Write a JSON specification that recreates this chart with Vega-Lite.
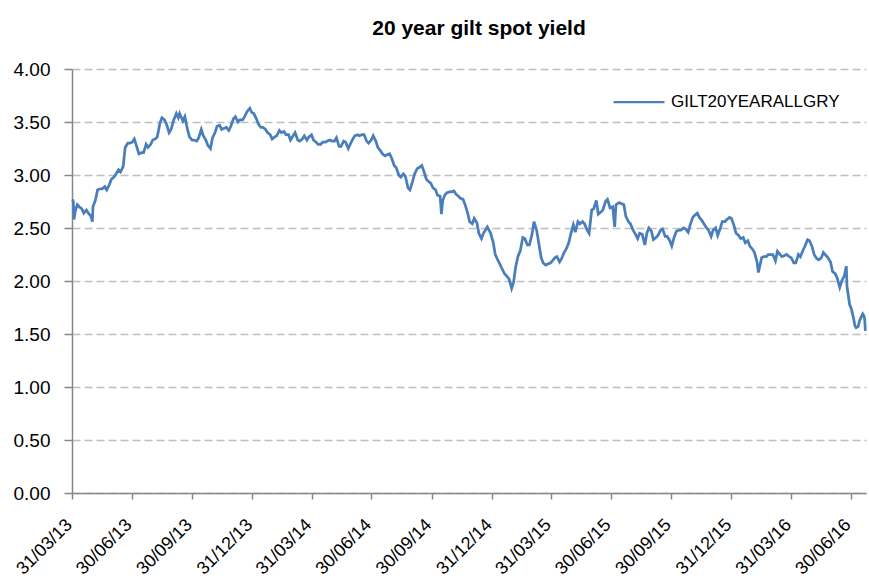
{
  "$schema": "https://vega.github.io/schema/vega-lite/v6.json",
  "width": 794,
  "height": 424,
  "autosize": {"type": "none"},
  "padding": {"left": 72, "top": 69, "right": 3, "bottom": 86},
  "background": "white",
  "config": {
    "view": {"stroke": null},
    "font": "Liberation Sans"
  },
  "title": {
    "text": "20 year gilt spot yield",
    "font": "Liberation Sans",
    "fontSize": 21,
    "fontWeight": "bold",
    "color": "#000000",
    "anchor": "middle",
    "dx": 10,
    "baseline": "alphabetic",
    "offset": 4
  },
  "data": {
    "values": [
      {"date": "2013-04-01", "yield": 2.77},
      {"date": "2013-04-02", "yield": 2.75},
      {"date": "2013-04-03", "yield": 2.58},
      {"date": "2013-04-05", "yield": 2.66},
      {"date": "2013-04-08", "yield": 2.72},
      {"date": "2013-04-11", "yield": 2.70},
      {"date": "2013-04-15", "yield": 2.68},
      {"date": "2013-04-18", "yield": 2.64},
      {"date": "2013-04-22", "yield": 2.67},
      {"date": "2013-04-25", "yield": 2.64},
      {"date": "2013-04-29", "yield": 2.61},
      {"date": "2013-05-01", "yield": 2.56},
      {"date": "2013-05-02", "yield": 2.70},
      {"date": "2013-05-06", "yield": 2.77},
      {"date": "2013-05-09", "yield": 2.86},
      {"date": "2013-05-13", "yield": 2.87},
      {"date": "2013-05-16", "yield": 2.87},
      {"date": "2013-05-20", "yield": 2.89},
      {"date": "2013-05-23", "yield": 2.86},
      {"date": "2013-05-27", "yield": 2.91},
      {"date": "2013-05-30", "yield": 2.96},
      {"date": "2013-06-03", "yield": 2.98},
      {"date": "2013-06-06", "yield": 3.01},
      {"date": "2013-06-10", "yield": 3.05},
      {"date": "2013-06-13", "yield": 3.03},
      {"date": "2013-06-17", "yield": 3.08},
      {"date": "2013-06-20", "yield": 3.26},
      {"date": "2013-06-24", "yield": 3.30},
      {"date": "2013-06-27", "yield": 3.30},
      {"date": "2013-07-01", "yield": 3.31},
      {"date": "2013-07-04", "yield": 3.34},
      {"date": "2013-07-08", "yield": 3.26},
      {"date": "2013-07-11", "yield": 3.20},
      {"date": "2013-07-15", "yield": 3.21},
      {"date": "2013-07-18", "yield": 3.21},
      {"date": "2013-07-22", "yield": 3.29},
      {"date": "2013-07-25", "yield": 3.26},
      {"date": "2013-07-29", "yield": 3.29},
      {"date": "2013-08-01", "yield": 3.33},
      {"date": "2013-08-05", "yield": 3.34},
      {"date": "2013-08-08", "yield": 3.36},
      {"date": "2013-08-12", "yield": 3.49},
      {"date": "2013-08-15", "yield": 3.54},
      {"date": "2013-08-19", "yield": 3.52},
      {"date": "2013-08-22", "yield": 3.48},
      {"date": "2013-08-26", "yield": 3.40},
      {"date": "2013-08-29", "yield": 3.43},
      {"date": "2013-09-02", "yield": 3.52},
      {"date": "2013-09-06", "yield": 3.58},
      {"date": "2013-09-09", "yield": 3.54},
      {"date": "2013-09-11", "yield": 3.58},
      {"date": "2013-09-16", "yield": 3.51},
      {"date": "2013-09-19", "yield": 3.55},
      {"date": "2013-09-23", "yield": 3.43},
      {"date": "2013-09-26", "yield": 3.36},
      {"date": "2013-09-30", "yield": 3.33},
      {"date": "2013-10-03", "yield": 3.33},
      {"date": "2013-10-07", "yield": 3.32},
      {"date": "2013-10-10", "yield": 3.35},
      {"date": "2013-10-14", "yield": 3.43},
      {"date": "2013-10-17", "yield": 3.37},
      {"date": "2013-10-21", "yield": 3.33},
      {"date": "2013-10-24", "yield": 3.28},
      {"date": "2013-10-28", "yield": 3.25},
      {"date": "2013-10-31", "yield": 3.35},
      {"date": "2013-11-04", "yield": 3.40},
      {"date": "2013-11-07", "yield": 3.46},
      {"date": "2013-11-11", "yield": 3.47},
      {"date": "2013-11-14", "yield": 3.43},
      {"date": "2013-11-18", "yield": 3.44},
      {"date": "2013-11-21", "yield": 3.45},
      {"date": "2013-11-25", "yield": 3.42},
      {"date": "2013-11-28", "yield": 3.46},
      {"date": "2013-12-02", "yield": 3.53},
      {"date": "2013-12-05", "yield": 3.55},
      {"date": "2013-12-09", "yield": 3.50},
      {"date": "2013-12-12", "yield": 3.52},
      {"date": "2013-12-16", "yield": 3.52},
      {"date": "2013-12-19", "yield": 3.55},
      {"date": "2013-12-23", "yield": 3.60},
      {"date": "2013-12-27", "yield": 3.63},
      {"date": "2013-12-30", "yield": 3.59},
      {"date": "2014-01-02", "yield": 3.58},
      {"date": "2014-01-06", "yield": 3.53},
      {"date": "2014-01-09", "yield": 3.48},
      {"date": "2014-01-13", "yield": 3.45},
      {"date": "2014-01-16", "yield": 3.45},
      {"date": "2014-01-20", "yield": 3.43},
      {"date": "2014-01-23", "yield": 3.40},
      {"date": "2014-01-27", "yield": 3.38},
      {"date": "2014-01-30", "yield": 3.34},
      {"date": "2014-02-03", "yield": 3.36},
      {"date": "2014-02-06", "yield": 3.37},
      {"date": "2014-02-10", "yield": 3.42},
      {"date": "2014-02-13", "yield": 3.40},
      {"date": "2014-02-17", "yield": 3.41},
      {"date": "2014-02-20", "yield": 3.38},
      {"date": "2014-02-24", "yield": 3.38},
      {"date": "2014-02-27", "yield": 3.33},
      {"date": "2014-03-03", "yield": 3.37},
      {"date": "2014-03-06", "yield": 3.40},
      {"date": "2014-03-10", "yield": 3.33},
      {"date": "2014-03-13", "yield": 3.32},
      {"date": "2014-03-17", "yield": 3.34},
      {"date": "2014-03-20", "yield": 3.37},
      {"date": "2014-03-24", "yield": 3.33},
      {"date": "2014-03-27", "yield": 3.36},
      {"date": "2014-03-31", "yield": 3.38},
      {"date": "2014-04-03", "yield": 3.33},
      {"date": "2014-04-07", "yield": 3.31},
      {"date": "2014-04-10", "yield": 3.29},
      {"date": "2014-04-14", "yield": 3.29},
      {"date": "2014-04-17", "yield": 3.31},
      {"date": "2014-04-21", "yield": 3.31},
      {"date": "2014-04-24", "yield": 3.32},
      {"date": "2014-04-28", "yield": 3.33},
      {"date": "2014-05-01", "yield": 3.32},
      {"date": "2014-05-05", "yield": 3.32},
      {"date": "2014-05-08", "yield": 3.35},
      {"date": "2014-05-12", "yield": 3.27},
      {"date": "2014-05-15", "yield": 3.27},
      {"date": "2014-05-19", "yield": 3.32},
      {"date": "2014-05-22", "yield": 3.31},
      {"date": "2014-05-26", "yield": 3.25},
      {"date": "2014-05-29", "yield": 3.29},
      {"date": "2014-06-02", "yield": 3.34},
      {"date": "2014-06-05", "yield": 3.37},
      {"date": "2014-06-09", "yield": 3.38},
      {"date": "2014-06-12", "yield": 3.37},
      {"date": "2014-06-16", "yield": 3.38},
      {"date": "2014-06-19", "yield": 3.38},
      {"date": "2014-06-23", "yield": 3.32},
      {"date": "2014-06-26", "yield": 3.30},
      {"date": "2014-06-30", "yield": 3.33},
      {"date": "2014-07-03", "yield": 3.37},
      {"date": "2014-07-07", "yield": 3.32},
      {"date": "2014-07-10", "yield": 3.26},
      {"date": "2014-07-14", "yield": 3.23},
      {"date": "2014-07-17", "yield": 3.20},
      {"date": "2014-07-21", "yield": 3.18},
      {"date": "2014-07-24", "yield": 3.19},
      {"date": "2014-07-28", "yield": 3.20},
      {"date": "2014-07-31", "yield": 3.16},
      {"date": "2014-08-04", "yield": 3.09},
      {"date": "2014-08-07", "yield": 3.07},
      {"date": "2014-08-11", "yield": 3.00},
      {"date": "2014-08-14", "yield": 2.98},
      {"date": "2014-08-18", "yield": 3.01},
      {"date": "2014-08-21", "yield": 2.99},
      {"date": "2014-08-25", "yield": 2.88},
      {"date": "2014-08-28", "yield": 2.86},
      {"date": "2014-09-01", "yield": 2.94},
      {"date": "2014-09-04", "yield": 3.01},
      {"date": "2014-09-08", "yield": 3.06},
      {"date": "2014-09-11", "yield": 3.07},
      {"date": "2014-09-15", "yield": 3.09},
      {"date": "2014-09-18", "yield": 3.04},
      {"date": "2014-09-22", "yield": 2.96},
      {"date": "2014-09-25", "yield": 2.94},
      {"date": "2014-09-29", "yield": 2.92},
      {"date": "2014-10-02", "yield": 2.88},
      {"date": "2014-10-06", "yield": 2.86},
      {"date": "2014-10-09", "yield": 2.81},
      {"date": "2014-10-13", "yield": 2.80},
      {"date": "2014-10-15", "yield": 2.63},
      {"date": "2014-10-17", "yield": 2.76},
      {"date": "2014-10-20", "yield": 2.81},
      {"date": "2014-10-23", "yield": 2.83},
      {"date": "2014-10-27", "yield": 2.84},
      {"date": "2014-10-30", "yield": 2.84},
      {"date": "2014-11-03", "yield": 2.85},
      {"date": "2014-11-06", "yield": 2.82},
      {"date": "2014-11-10", "yield": 2.80},
      {"date": "2014-11-13", "yield": 2.78},
      {"date": "2014-11-17", "yield": 2.77},
      {"date": "2014-11-20", "yield": 2.72},
      {"date": "2014-11-24", "yield": 2.64},
      {"date": "2014-11-27", "yield": 2.56},
      {"date": "2014-12-01", "yield": 2.54},
      {"date": "2014-12-04", "yield": 2.59},
      {"date": "2014-12-08", "yield": 2.55},
      {"date": "2014-12-11", "yield": 2.45},
      {"date": "2014-12-15", "yield": 2.40},
      {"date": "2014-12-18", "yield": 2.45},
      {"date": "2014-12-22", "yield": 2.49},
      {"date": "2014-12-24", "yield": 2.51},
      {"date": "2014-12-29", "yield": 2.45},
      {"date": "2015-01-02", "yield": 2.36},
      {"date": "2015-01-05", "yield": 2.25},
      {"date": "2015-01-08", "yield": 2.21},
      {"date": "2015-01-12", "yield": 2.16},
      {"date": "2015-01-15", "yield": 2.12},
      {"date": "2015-01-19", "yield": 2.07},
      {"date": "2015-01-22", "yield": 2.05},
      {"date": "2015-01-26", "yield": 2.02},
      {"date": "2015-01-30", "yield": 1.93},
      {"date": "2015-02-02", "yield": 1.99},
      {"date": "2015-02-05", "yield": 2.13},
      {"date": "2015-02-09", "yield": 2.24},
      {"date": "2015-02-12", "yield": 2.28},
      {"date": "2015-02-16", "yield": 2.41},
      {"date": "2015-02-19", "yield": 2.40},
      {"date": "2015-02-23", "yield": 2.34},
      {"date": "2015-02-26", "yield": 2.34},
      {"date": "2015-03-02", "yield": 2.44},
      {"date": "2015-03-05", "yield": 2.56},
      {"date": "2015-03-09", "yield": 2.48},
      {"date": "2015-03-12", "yield": 2.37},
      {"date": "2015-03-16", "yield": 2.22},
      {"date": "2015-03-19", "yield": 2.17},
      {"date": "2015-03-23", "yield": 2.15},
      {"date": "2015-03-26", "yield": 2.16},
      {"date": "2015-03-30", "yield": 2.17},
      {"date": "2015-04-02", "yield": 2.19},
      {"date": "2015-04-06", "yield": 2.22},
      {"date": "2015-04-09", "yield": 2.23},
      {"date": "2015-04-13", "yield": 2.18},
      {"date": "2015-04-16", "yield": 2.21},
      {"date": "2015-04-20", "yield": 2.27},
      {"date": "2015-04-23", "yield": 2.30},
      {"date": "2015-04-27", "yield": 2.36},
      {"date": "2015-04-30", "yield": 2.44},
      {"date": "2015-05-04", "yield": 2.53},
      {"date": "2015-05-07", "yield": 2.46},
      {"date": "2015-05-11", "yield": 2.56},
      {"date": "2015-05-14", "yield": 2.54},
      {"date": "2015-05-18", "yield": 2.56},
      {"date": "2015-05-21", "yield": 2.54},
      {"date": "2015-05-25", "yield": 2.48},
      {"date": "2015-05-28", "yield": 2.45},
      {"date": "2015-06-01", "yield": 2.67},
      {"date": "2015-06-04", "yield": 2.68},
      {"date": "2015-06-08", "yield": 2.76},
      {"date": "2015-06-11", "yield": 2.63},
      {"date": "2015-06-15", "yield": 2.65},
      {"date": "2015-06-18", "yield": 2.67},
      {"date": "2015-06-22", "yield": 2.75},
      {"date": "2015-06-25", "yield": 2.77},
      {"date": "2015-06-29", "yield": 2.69},
      {"date": "2015-07-03", "yield": 2.70},
      {"date": "2015-07-06", "yield": 2.51},
      {"date": "2015-07-08", "yield": 2.72},
      {"date": "2015-07-13", "yield": 2.74},
      {"date": "2015-07-16", "yield": 2.73},
      {"date": "2015-07-20", "yield": 2.72},
      {"date": "2015-07-23", "yield": 2.61},
      {"date": "2015-07-27", "yield": 2.56},
      {"date": "2015-07-30", "yield": 2.54},
      {"date": "2015-08-03", "yield": 2.48},
      {"date": "2015-08-06", "yield": 2.45},
      {"date": "2015-08-10", "yield": 2.40},
      {"date": "2015-08-13", "yield": 2.45},
      {"date": "2015-08-17", "yield": 2.44},
      {"date": "2015-08-21", "yield": 2.34},
      {"date": "2015-08-24", "yield": 2.45},
      {"date": "2015-08-27", "yield": 2.50},
      {"date": "2015-08-31", "yield": 2.47},
      {"date": "2015-09-03", "yield": 2.39},
      {"date": "2015-09-07", "yield": 2.41},
      {"date": "2015-09-10", "yield": 2.43},
      {"date": "2015-09-14", "yield": 2.48},
      {"date": "2015-09-17", "yield": 2.49},
      {"date": "2015-09-21", "yield": 2.42},
      {"date": "2015-09-24", "yield": 2.42},
      {"date": "2015-09-28", "yield": 2.38},
      {"date": "2015-10-01", "yield": 2.33},
      {"date": "2015-10-05", "yield": 2.42},
      {"date": "2015-10-08", "yield": 2.47},
      {"date": "2015-10-12", "yield": 2.48},
      {"date": "2015-10-15", "yield": 2.48},
      {"date": "2015-10-19", "yield": 2.50},
      {"date": "2015-10-22", "yield": 2.49},
      {"date": "2015-10-26", "yield": 2.46},
      {"date": "2015-10-29", "yield": 2.53},
      {"date": "2015-11-02", "yield": 2.60},
      {"date": "2015-11-05", "yield": 2.62},
      {"date": "2015-11-09", "yield": 2.64},
      {"date": "2015-11-12", "yield": 2.60},
      {"date": "2015-11-16", "yield": 2.57},
      {"date": "2015-11-19", "yield": 2.54},
      {"date": "2015-11-23", "yield": 2.50},
      {"date": "2015-11-26", "yield": 2.48},
      {"date": "2015-11-30", "yield": 2.42},
      {"date": "2015-12-03", "yield": 2.48},
      {"date": "2015-12-07", "yield": 2.50},
      {"date": "2015-12-10", "yield": 2.43},
      {"date": "2015-12-14", "yield": 2.50},
      {"date": "2015-12-17", "yield": 2.56},
      {"date": "2015-12-21", "yield": 2.56},
      {"date": "2015-12-24", "yield": 2.58},
      {"date": "2015-12-28", "yield": 2.60},
      {"date": "2015-12-31", "yield": 2.59},
      {"date": "2016-01-04", "yield": 2.52},
      {"date": "2016-01-07", "yield": 2.45},
      {"date": "2016-01-11", "yield": 2.43},
      {"date": "2016-01-14", "yield": 2.40},
      {"date": "2016-01-18", "yield": 2.41},
      {"date": "2016-01-21", "yield": 2.36},
      {"date": "2016-01-25", "yield": 2.38},
      {"date": "2016-01-28", "yield": 2.33},
      {"date": "2016-02-01", "yield": 2.30},
      {"date": "2016-02-04", "yield": 2.27},
      {"date": "2016-02-08", "yield": 2.18},
      {"date": "2016-02-10", "yield": 2.08},
      {"date": "2016-02-15", "yield": 2.22},
      {"date": "2016-02-18", "yield": 2.23},
      {"date": "2016-02-22", "yield": 2.23},
      {"date": "2016-02-25", "yield": 2.25},
      {"date": "2016-02-29", "yield": 2.25},
      {"date": "2016-03-03", "yield": 2.25},
      {"date": "2016-03-07", "yield": 2.19},
      {"date": "2016-03-10", "yield": 2.28},
      {"date": "2016-03-14", "yield": 2.25},
      {"date": "2016-03-17", "yield": 2.23},
      {"date": "2016-03-21", "yield": 2.24},
      {"date": "2016-03-24", "yield": 2.25},
      {"date": "2016-03-28", "yield": 2.23},
      {"date": "2016-03-31", "yield": 2.22},
      {"date": "2016-04-04", "yield": 2.17},
      {"date": "2016-04-07", "yield": 2.17},
      {"date": "2016-04-11", "yield": 2.25},
      {"date": "2016-04-14", "yield": 2.23},
      {"date": "2016-04-18", "yield": 2.29},
      {"date": "2016-04-21", "yield": 2.33},
      {"date": "2016-04-25", "yield": 2.39},
      {"date": "2016-04-28", "yield": 2.38},
      {"date": "2016-05-02", "yield": 2.32},
      {"date": "2016-05-05", "yield": 2.25},
      {"date": "2016-05-09", "yield": 2.21},
      {"date": "2016-05-12", "yield": 2.20},
      {"date": "2016-05-16", "yield": 2.22},
      {"date": "2016-05-19", "yield": 2.27},
      {"date": "2016-05-23", "yield": 2.24},
      {"date": "2016-05-26", "yield": 2.22},
      {"date": "2016-05-30", "yield": 2.18},
      {"date": "2016-06-02", "yield": 2.09},
      {"date": "2016-06-06", "yield": 2.07},
      {"date": "2016-06-09", "yield": 2.03},
      {"date": "2016-06-13", "yield": 1.94},
      {"date": "2016-06-16", "yield": 2.00},
      {"date": "2016-06-20", "yield": 2.05},
      {"date": "2016-06-23", "yield": 2.14},
      {"date": "2016-06-24", "yield": 1.95},
      {"date": "2016-06-28", "yield": 1.78},
      {"date": "2016-07-01", "yield": 1.73},
      {"date": "2016-07-04", "yield": 1.65},
      {"date": "2016-07-06", "yield": 1.58},
      {"date": "2016-07-08", "yield": 1.56},
      {"date": "2016-07-11", "yield": 1.57},
      {"date": "2016-07-13", "yield": 1.62},
      {"date": "2016-07-15", "yield": 1.65},
      {"date": "2016-07-18", "yield": 1.69},
      {"date": "2016-07-20", "yield": 1.67},
      {"date": "2016-07-21", "yield": 1.64},
      {"date": "2016-07-22", "yield": 1.53}
    ]
  },
  "mark": {"type": "line", "strokeWidth": 2.75, "interpolate": "linear"},
  "encoding": {
    "x": {
      "field": "date",
      "type": "temporal",
      "scale": {
        "type": "utc",
        "domain": [
          {"year": 2013, "month": 3, "date": 31, "utc": true},
          {"year": 2016, "month": 7, "date": 23, "utc": true}
        ]
      },
      "axis": {
        "title": null,
        "grid": false,
        "format": "%d/%m/%y",
        "values": [
          {"year": 2013, "month": 3, "date": 31, "utc": true},
          {"year": 2013, "month": 6, "date": 30, "utc": true},
          {"year": 2013, "month": 9, "date": 30, "utc": true},
          {"year": 2013, "month": 12, "date": 31, "utc": true},
          {"year": 2014, "month": 3, "date": 31, "utc": true},
          {"year": 2014, "month": 6, "date": 30, "utc": true},
          {"year": 2014, "month": 9, "date": 30, "utc": true},
          {"year": 2014, "month": 12, "date": 31, "utc": true},
          {"year": 2015, "month": 3, "date": 31, "utc": true},
          {"year": 2015, "month": 6, "date": 30, "utc": true},
          {"year": 2015, "month": 9, "date": 30, "utc": true},
          {"year": 2015, "month": 12, "date": 31, "utc": true},
          {"year": 2016, "month": 3, "date": 31, "utc": true},
          {"year": 2016, "month": 6, "date": 30, "utc": true}
        ],
        "labelAngle": -45,
        "labelAlign": "right",
        "labelBaseline": "middle",
        "labelPadding": 23,
        "labelOffset": -3,
        "labelFont": "Liberation Sans",
        "labelFontSize": 18,
        "labelColor": "#000000",
        "labelOverlap": false,
        "labelFlush": false,
        "domainColor": "#868686",
        "domainWidth": 1.5,
        "tickColor": "#868686",
        "tickWidth": 1.5,
        "tickSize": 6
      }
    },
    "y": {
      "field": "yield",
      "type": "quantitative",
      "scale": {"domain": [0, 4], "nice": false, "zero": true},
      "axis": {
        "title": null,
        "values": [0, 0.5, 1, 1.5, 2, 2.5, 3, 3.5, 4],
        "format": ".2f",
        "grid": true,
        "gridColor": "#bfbfbf",
        "gridDash": [8, 4],
        "gridWidth": 1.5,
        "labelFont": "Liberation Sans",
        "labelFontSize": 19,
        "labelColor": "#000000",
        "labelPadding": 14,
        "domainColor": "#868686",
        "domainWidth": 1.5,
        "tickColor": "#868686",
        "tickWidth": 1.5,
        "tickSize": 8
      }
    },
    "color": {
      "datum": "GILT20YEARALLGRY",
      "type": "nominal",
      "scale": {"range": ["#4a7ebb"]},
      "legend": {
        "title": null,
        "orient": "none",
        "legendX": 540,
        "legendY": 6,
        "padding": 0,
        "symbolType": "stroke",
        "symbolSize": 2600,
        "symbolStrokeWidth": 2.25,
        "labelFont": "Liberation Sans",
        "labelFontSize": 17,
        "labelLimit": 400,
        "labelColor": "#000000",
        "labelOffset": 5
      }
    }
  }
}
